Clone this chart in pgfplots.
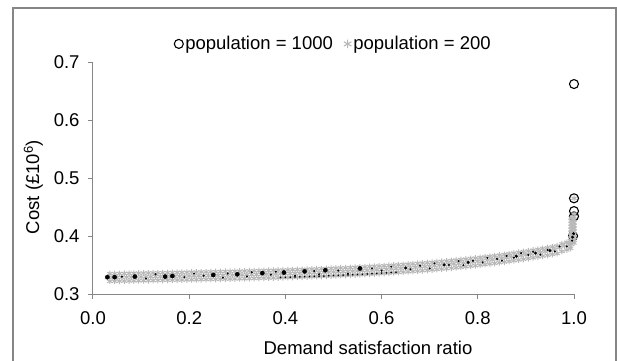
\documentclass[border=0pt]{standalone}
\usepackage{fontspec}
\setmainfont{Liberation Sans}
\usepackage{pgfplots}
\usepackage{pgfplotstable}
\pgfplotsset{compat=1.18}
\definecolor{bandgray}{HTML}{B8B8B8}
\definecolor{axgray}{HTML}{868686}
\newcommand{\lf}{\fontsize{18.5bp}{21bp}\selectfont}

\pgfplotstableread{
x xs lo mid hi
0.03 0.035 0.3220 0.3285 0.3350
0.04 0.045 0.3221 0.3286 0.3351
0.05 0.055 0.3223 0.3288 0.3353
0.06 0.065 0.3224 0.3289 0.3354
0.07 0.075 0.3226 0.3291 0.3356
0.08 0.085 0.3227 0.3292 0.3357
0.09 0.095 0.3229 0.3294 0.3359
0.10 0.105 0.3230 0.3295 0.3360
0.11 0.115 0.3232 0.3297 0.3362
0.12 0.125 0.3233 0.3298 0.3363
0.13 0.135 0.3235 0.3300 0.3365
0.14 0.145 0.3236 0.3301 0.3366
0.15 0.155 0.3238 0.3303 0.3368
0.16 0.165 0.3239 0.3304 0.3369
0.17 0.175 0.3241 0.3306 0.3371
0.18 0.185 0.3242 0.3307 0.3372
0.19 0.195 0.3244 0.3309 0.3374
0.20 0.205 0.3246 0.3311 0.3376
0.21 0.215 0.3247 0.3312 0.3377
0.22 0.225 0.3249 0.3314 0.3379
0.23 0.235 0.3251 0.3316 0.3381
0.24 0.245 0.3252 0.3317 0.3382
0.25 0.255 0.3254 0.3319 0.3384
0.26 0.265 0.3256 0.3321 0.3386
0.27 0.275 0.3258 0.3323 0.3388
0.28 0.285 0.3259 0.3324 0.3389
0.29 0.295 0.3261 0.3326 0.3391
0.30 0.305 0.3263 0.3328 0.3393
0.31 0.315 0.3265 0.3330 0.3395
0.32 0.325 0.3267 0.3332 0.3397
0.33 0.335 0.3269 0.3334 0.3399
0.34 0.345 0.3271 0.3336 0.3401
0.35 0.355 0.3274 0.3339 0.3404
0.36 0.365 0.3276 0.3341 0.3406
0.37 0.375 0.3278 0.3343 0.3408
0.38 0.385 0.3280 0.3345 0.3410
0.39 0.395 0.3283 0.3348 0.3413
0.40 0.405 0.3285 0.3350 0.3415
0.41 0.415 0.3288 0.3353 0.3418
0.42 0.425 0.3290 0.3355 0.3420
0.43 0.435 0.3293 0.3358 0.3423
0.44 0.445 0.3296 0.3361 0.3426
0.45 0.455 0.3299 0.3364 0.3429
0.46 0.465 0.3302 0.3367 0.3432
0.47 0.475 0.3305 0.3370 0.3435
0.48 0.485 0.3308 0.3373 0.3438
0.49 0.495 0.3312 0.3377 0.3442
0.50 0.505 0.3315 0.3380 0.3445
0.51 0.515 0.3319 0.3384 0.3449
0.52 0.525 0.3322 0.3387 0.3452
0.53 0.535 0.3326 0.3391 0.3456
0.54 0.545 0.3330 0.3395 0.3460
0.55 0.555 0.3334 0.3399 0.3464
0.56 0.565 0.3338 0.3403 0.3468
0.57 0.575 0.3343 0.3408 0.3473
0.58 0.585 0.3347 0.3412 0.3477
0.59 0.595 0.3352 0.3417 0.3482
0.60 0.605 0.3357 0.3422 0.3487
0.61 0.615 0.3362 0.3427 0.3492
0.62 0.625 0.3367 0.3432 0.3497
0.63 0.635 0.3373 0.3438 0.3503
0.64 0.645 0.3378 0.3443 0.3508
0.65 0.655 0.3384 0.3449 0.3514
0.66 0.665 0.3390 0.3455 0.3520
0.67 0.675 0.3396 0.3461 0.3526
0.68 0.685 0.3403 0.3468 0.3533
0.69 0.695 0.3409 0.3474 0.3539
0.70 0.705 0.3416 0.3481 0.3546
0.71 0.715 0.3423 0.3488 0.3553
0.72 0.725 0.3431 0.3496 0.3561
0.73 0.735 0.3438 0.3503 0.3568
0.74 0.745 0.3446 0.3511 0.3576
0.75 0.755 0.3454 0.3519 0.3584
0.76 0.765 0.3462 0.3527 0.3592
0.77 0.775 0.3471 0.3536 0.3601
0.78 0.785 0.3480 0.3545 0.3610
0.79 0.795 0.3489 0.3554 0.3619
0.80 0.805 0.3499 0.3564 0.3629
0.81 0.815 0.3509 0.3574 0.3639
0.82 0.825 0.3519 0.3584 0.3649
0.83 0.835 0.3529 0.3594 0.3659
0.84 0.845 0.3540 0.3605 0.3670
0.85 0.855 0.3551 0.3616 0.3681
0.86 0.865 0.3563 0.3628 0.3693
0.87 0.875 0.3575 0.3640 0.3705
0.88 0.885 0.3587 0.3652 0.3717
0.89 0.895 0.3599 0.3664 0.3729
0.90 0.905 0.3612 0.3677 0.3742
0.91 0.915 0.3626 0.3691 0.3756
0.92 0.925 0.3640 0.3705 0.3770
0.93 0.935 0.3654 0.3719 0.3784
0.94 0.945 0.3668 0.3733 0.3798
0.95 0.955 0.3683 0.3748 0.3813
0.96 0.965 0.3699 0.3764 0.3829
0.97 0.975 0.3735 0.3800 0.3865
0.98 0.985 0.3761 0.3826 0.3891
0.99 0.993 0.3788 0.3853 0.3918
}\band

\begin{document}
\begin{tikzpicture}
\path[use as bounding box] (-93bp,-67bp) rectangle (524bp,294bp);
\draw[axgray, line width=1.2bp] (-80bp,-70bp) -- (-80bp,286bp) -- (523bp,286bp) -- (523bp,-70bp);
\begin{axis}[
  at={(0,0)}, anchor=south west,
  scale only axis, width=481bp, height=232bp,
  xmin=0, xmax=1, ymin=0.3, ymax=0.7,
  axis x line*=bottom, axis y line*=left,
  axis line style={axgray, line width=1bp},
  xtick={0,0.2,0.4,0.6,0.8,1}, ytick={0.3,0.4,0.5,0.6,0.7},
  tick align=outside, major tick length=5bp,
  tick style={axgray, line width=1bp},
  /pgf/number format/assume math mode=true,
  xticklabel style={font=\lf, yshift=-9bp, /pgf/number format/fixed, /pgf/number format/fixed zerofill, /pgf/number format/precision=1},
  yticklabel style={font=\lf, xshift=-5bp, /pgf/number format/fixed, /pgf/number format/fixed zerofill, /pgf/number format/precision=1},
  clip=false,
  xlabel={Demand satisfaction ratio},
  ylabel={Cost (£10\textsuperscript{6})},
  xlabel style={font=\lf, at={(axis description cs:0.5717,-0.262)}, anchor=base},
  ylabel style={font=\lf, at={(axis description cs:-0.1237,0.461)}, anchor=center},
  legend style={at={(axis description cs:0.5,1.078)}, anchor=center, draw=none, fill=none,
    font=\lf, inner sep=0pt, /tikz/every even column/.append style={column sep=9bp}},
  legend columns=2,
  legend cell align=left,
  legend image code/.code={\draw[#1] plot coordinates {(0bp,0bp)};},
]
% population = 1000 (outliers at full satisfaction)
\addplot[only marks, mark=o, mark size=4.5bp, draw=black, line width=1.1bp]
  coordinates {(1.0,0.662) (1.0,0.465) (1.0,0.443) (1.0,0.434) (0.998,0.400)};
\addlegendentry{population = 1000}
% population = 200 band
\addplot[only marks, mark=asterisk, mark size=3bp, color=bandgray, line width=1bp,
  legend image code/.code={\draw[mark=asterisk, mark size=4.3bp, bandgray, line width=1.1bp] plot[only marks] coordinates {(0bp,0bp)};}]
  table[x=x, y=mid] {\band};
\addlegendentry{population = 200}
\addplot[forget plot, only marks, mark=asterisk, mark size=3bp, color=bandgray, line width=1bp]
  table[x=xs, y=lo] {\band};
\addplot[forget plot, only marks, mark=asterisk, mark size=3bp, color=bandgray, line width=1bp]
  table[x=xs, y=hi] {\band};
\addplot[forget plot, only marks, mark=asterisk, mark size=3bp, color=bandgray, line width=1bp]
  coordinates {(0.994,0.386) (0.994,0.391) (0.994,0.396) (0.994,0.401) (0.994,0.406)
    (0.994,0.411) (0.994,0.416) (0.994,0.421) (0.994,0.426) (0.994,0.431)
    (1.0,0.388) (1.0,0.393) (1.0,0.398) (1.0,0.403) (1.0,0.408) (1.0,0.413)
    (1.0,0.418) (1.0,0.423) (1.0,0.428) (1.0,0.433) (1.0,0.438) (1.0,0.465)};
% population = 1000, dense points inside the band
\addplot[forget plot, only marks, mark=*, mark size=2.1bp, black]
  coordinates {(0.03,0.3290) (0.045,0.3290) (0.087,0.3300) (0.15,0.3300) (0.165,0.3310)
    (0.25,0.3328) (0.30,0.3340) (0.352,0.3360) (0.397,0.3370) (0.44,0.3390)
    (0.483,0.3410) (0.555,0.3440)};
\addplot[forget plot, only marks, mark=*, mark size=1.3bp, black]
  coordinates {(0.65,0.3449) (0.73,0.3503) (0.78,0.3545) (0.88,0.3652) (0.92,0.3705)
    (0.95,0.3748) (0.997,0.398) (0.999,0.404)};
\addplot[forget plot, only marks, mark=*, mark size=0.8bp, black]
  coordinates {(0.06,0.3300) (0.11,0.3267) (0.13,0.3340) (0.19,0.3289) (0.21,0.3352)
    (0.23,0.3316) (0.27,0.3283) (0.28,0.3354) (0.32,0.3302) (0.33,0.3374)
    (0.37,0.3333) (0.38,0.3385) (0.42,0.3315) (0.46,0.3397) (0.47,0.3340)
    (0.51,0.3404) (0.53,0.3351) (0.58,0.3442) (0.60,0.3402) (0.62,0.3472)
    (0.66,0.3425) (0.68,0.3488) (0.70,0.3441) (0.71,0.3528) (0.74,0.3501)
    (0.76,0.3567) (0.77,0.3496) (0.79,0.3574) (0.81,0.3544) (0.82,0.3624)
    (0.84,0.3605) (0.85,0.3576) (0.86,0.3658) (0.875,0.3626) (0.89,0.3704)
    (0.905,0.3674) (0.915,0.3728) (0.93,0.3679) (0.945,0.3760) (0.96,0.3734)
    (0.97,0.3820) (0.985,0.3820) (0.996,0.392)};
\addplot[forget plot, only marks, mark=*, mark size=0.6bp, black]
  coordinates {(0.39,0.3285) (0.40,0.3287) (0.41,0.3290) (0.42,0.3292) (0.43,0.3295)
    (0.44,0.3298) (0.45,0.3301) (0.46,0.3304) (0.47,0.3307) (0.48,0.3310)
    (0.49,0.3314) (0.50,0.3317) (0.51,0.3321) (0.52,0.3324) (0.53,0.3328)
    (0.54,0.3332) (0.55,0.3336) (0.56,0.3340) (0.57,0.3345) (0.58,0.3349)
    (0.59,0.3354) (0.60,0.3359) (0.61,0.3364) (0.62,0.3369) (0.63,0.3375)};
\end{axis}
\end{tikzpicture}
\end{document}
